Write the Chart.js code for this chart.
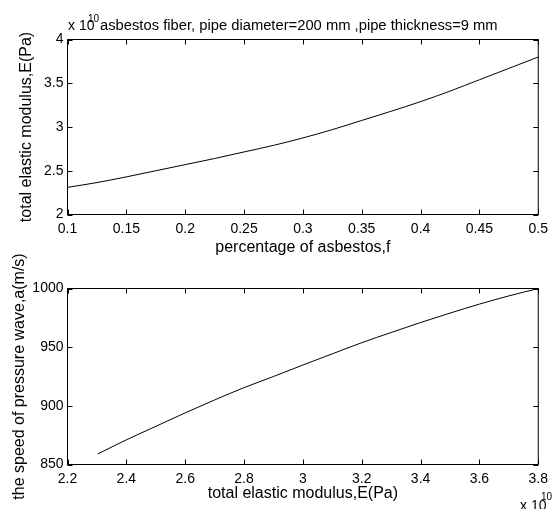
<!DOCTYPE html>
<html>
<head>
<meta charset="utf-8">
<script src="https://cdn.jsdelivr.net/npm/chart.js@4"></script>
<style>
  html, body { margin: 0; padding: 0; background: #fff; }
  #wrap { position: relative; width: 554px; height: 509px; overflow: hidden; background: #fff; }
  canvas { position: absolute; left: 0; top: 0; }
</style>
</head>
<body>
<div id="wrap">
  <canvas id="c1" width="554" height="509" style="width:554px;height:509px"></canvas>
  <canvas id="c2" width="554" height="509" style="width:554px;height:509px"></canvas>
</div>
<script>
// ---- data (top panel): percentage of asbestos vs total elastic modulus (x 1e10 Pa)
const asbestosFraction = [0.1, 0.125, 0.15, 0.175, 0.2, 0.225, 0.25, 0.275, 0.3, 0.325, 0.35, 0.375, 0.4, 0.425, 0.45, 0.475, 0.5];
const elasticModulus   = [2.31, 2.365, 2.43, 2.50, 2.57, 2.64, 2.715, 2.79, 2.875, 2.97, 3.075, 3.18, 3.29, 3.41, 3.54, 3.67, 3.80];

// ---- data (bottom panel): total elastic modulus (x 1e10 Pa) vs pressure wave speed (m/s)
const modulusAxis  = [2.303, 2.4, 2.5, 2.6, 2.7, 2.8, 2.9, 3.0, 3.1, 3.2, 3.3, 3.4, 3.5, 3.6, 3.7, 3.8];
const waveSpeed    = [859, 871, 882.5, 894, 905, 915.5, 925, 934.8, 944.3, 953.8, 962.5, 971, 979, 986.7, 993.7, 1000];

// ---- tick values / labels
const topXTicks = [0.1, 0.15, 0.2, 0.25, 0.3, 0.35, 0.4, 0.45, 0.5];
const topXLabels = ["0.1", "0.15", "0.2", "0.25", "0.3", "0.35", "0.4", "0.45", "0.5"];
const topYTicks = [2, 2.5, 3, 3.5, 4];
const topYLabels = ["2", "2.5", "3", "3.5", "4"];
const botXTicks = [2.2, 2.4, 2.6, 2.8, 3.0, 3.2, 3.4, 3.6, 3.8];
const botXLabels = ["2.2", "2.4", "2.6", "2.8", "3", "3.2", "3.4", "3.6", "3.8"];
const botYTicks = [850, 900, 950, 1000];
const botYLabels = ["850", "900", "950", "1000"];

const FONT = '"Liberation Sans", Arial, Helvetica, sans-serif';

// MATLAB-style box with inward ticks on all four sides
const boxPlugin = {
  id: 'matlabBox',
  afterDraw(chart, args, opts) {
    const ctx = chart.ctx;
    const a = chart.chartArea;
    const xs = chart.scales.x, ys = chart.scales.y;
    const tl = 5;
    ctx.save();
    ctx.strokeStyle = '#000';
    ctx.lineWidth = 1;
    ctx.beginPath();
    xs.ticks.forEach(t => {
      const px = Math.round(xs.getPixelForValue(t.value)) + 0.5;
      ctx.moveTo(px, a.bottom); ctx.lineTo(px, a.bottom - tl);
      ctx.moveTo(px, a.top); ctx.lineTo(px, a.top + tl);
    });
    ys.ticks.forEach(t => {
      const py = Math.round(ys.getPixelForValue(t.value)) + 0.5;
      ctx.moveTo(a.left, py); ctx.lineTo(a.left + tl, py);
      ctx.moveTo(a.right, py); ctx.lineTo(a.right - tl, py);
    });
    ctx.stroke();
    ctx.strokeRect(a.left, a.top, a.right - a.left, a.bottom - a.top);
    ctx.fillStyle = '#000';
    ctx.textBaseline = 'alphabetic';
    (opts.texts || []).forEach(tx => {
      ctx.font = tx.size + 'px ' + FONT;
      ctx.textAlign = tx.align || 'left';
      ctx.fillText(tx.text, tx.x, tx.y);
    });
    ctx.restore();
  }
};

function makeScale(ticksArr, labelsArr, min, max, title, titlePad, fit, axisKey) {
  return {
    type: 'linear',
    min: min, max: max,
    grid: { display: false, drawTicks: false },
    border: { display: false },
    afterBuildTicks(scale) { scale.ticks = ticksArr.map(v => ({ value: v })); },
    afterFit(scale) {
      if (axisKey === 'x') scale.height = fit; else scale.width = fit;
    },
    ticks: {
      autoSkip: false, maxRotation: 0, minRotation: 0,
      color: '#000',
      font: { family: FONT, size: 14 },
      padding: axisKey === 'x' ? 6 : 4,
      callback: (v, i) => labelsArr[i]
    },
    title: {
      display: true, text: title, color: '#000',
      font: { family: FONT, size: 16 },
      padding: titlePad
    }
  };
}

function makeChart(id, xs, ys, cfg) {
  return new Chart(document.getElementById(id), {
    type: 'line',
    data: {
      datasets: [{
        data: xs.map((x, i) => ({ x: x, y: ys[i] })),
        borderColor: '#000',
        borderWidth: 1,
        pointRadius: 0,
        fill: false,
        cubicInterpolationMode: 'monotone'
      }]
    },
    options: {
      responsive: false,
      animation: false,
      devicePixelRatio: 1,
      layout: { padding: cfg.padding },
      plugins: {
        legend: { display: false },
        title: { display: false },
        tooltip: { enabled: false },
        matlabBox: { texts: cfg.texts }
      },
      scales: {
        x: makeScale(cfg.xTicks, cfg.xLabels, cfg.xMin, cfg.xMax, cfg.xTitle, { top: 0, bottom: cfg.xTitlePad }, cfg.xFit, 'x'),
        y: makeScale(cfg.yTicks, cfg.yLabels, cfg.yMin, cfg.yMax, cfg.yTitle, { top: cfg.yTitlePad, bottom: 0 }, cfg.yFit, 'y')
      }
    },
    plugins: [boxPlugin]
  });
}

// top panel: plot box 67.5..542.5 x 39.5..214.5 ; x-axis block ends at y=270
makeChart('c1', asbestosFraction, elasticModulus, {
  padding: { left: 0, top: 39.5, right: 11.5, bottom: 239 },
  xTicks: topXTicks, xLabels: topXLabels, xMin: 0.1, xMax: 0.5,
  yTicks: topYTicks, yLabels: topYLabels, yMin: 2, yMax: 4,
  xTitle: 'percentage of asbestos,f', xTitlePad: 12.4, xFit: 270 - 214.5,
  yTitle: 'total elastic modulus,E(Pa)', yTitlePad: 17, yFit: 67.5,
  texts: [
    { text: 'x 10', x: 68, y: 30, size: 14 },
    { text: '10', x: 88, y: 22, size: 10 },
    { text: 'asbestos fiber, pipe diameter=200 mm ,pipe thickness=9 mm', x: 100, y: 30, size: 14.75 }
  ]
});

// bottom panel: plot box 67.5..542.5 x 288.5..464.5 ; x-axis block ends at y=509
makeChart('c2', modulusAxis, waveSpeed, {
  padding: { left: 0, top: 288.5, right: 11.5, bottom: 0 },
  xTicks: botXTicks, xLabels: botXLabels, xMin: 2.2, xMax: 3.8,
  yTicks: botYTicks, yLabels: botYLabels, yMin: 850, yMax: 1000,
  xTitle: 'total elastic modulus,E(Pa)', xTitlePad: 5.4, xFit: 509 - 464.5,
  yTitle: 'the speed of pressure wave,a(m/s)', yTitlePad: 10, yFit: 67.5,
  texts: [
    { text: 'x 10', x: 520, y: 510, size: 14 },
    { text: '10', x: 541, y: 500, size: 10 }
  ]
});
</script>
</body>
</html>
